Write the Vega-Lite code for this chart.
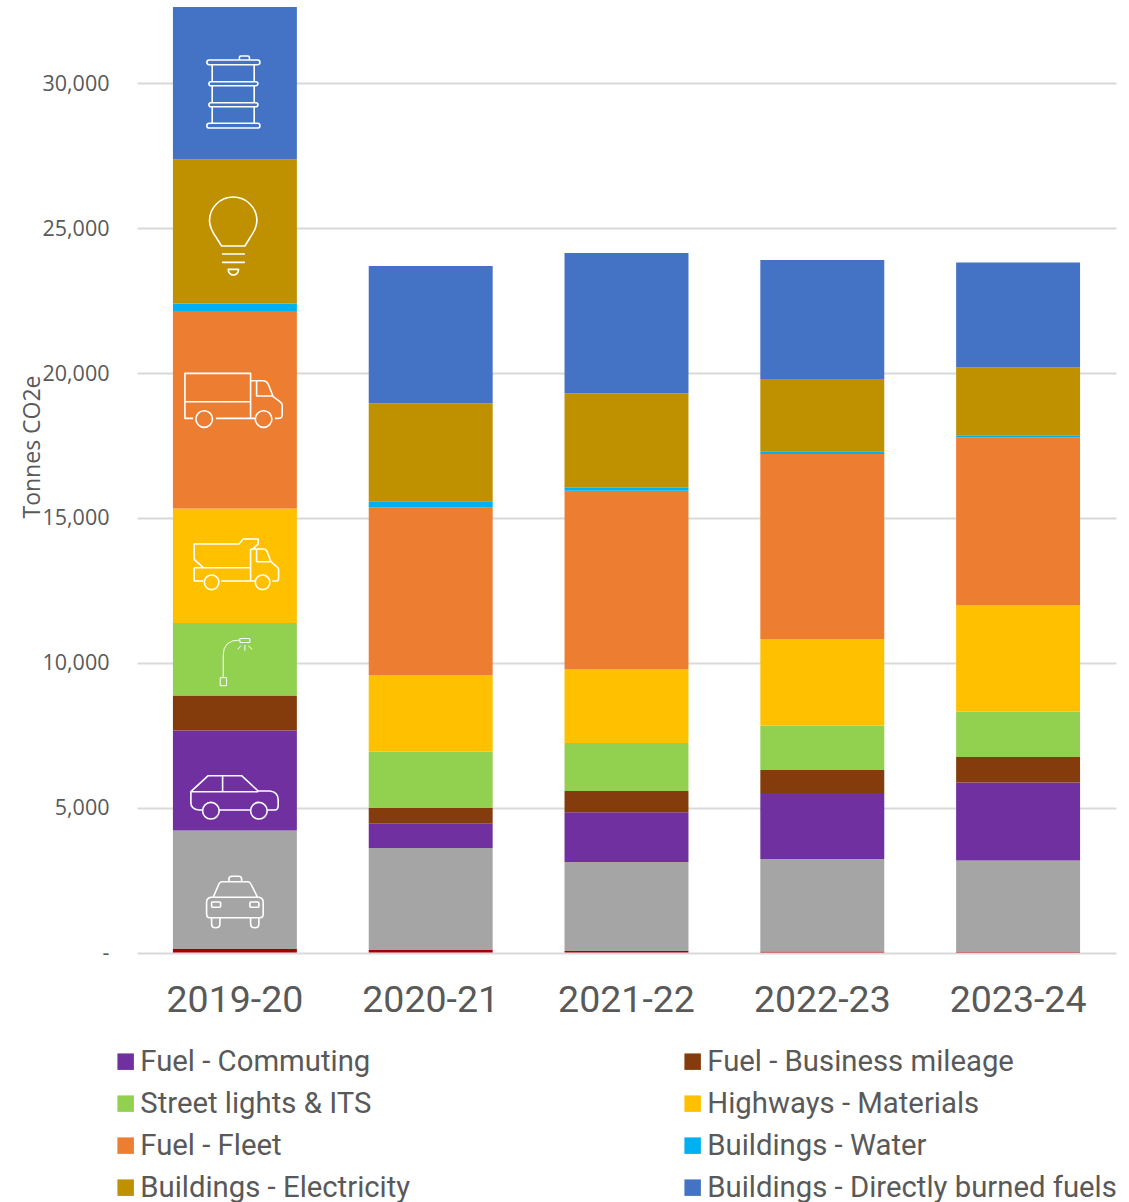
{"$schema":"https://vega.github.io/schema/vega-lite/v6.json","width":979,"height":945.5,"autosize":{"type":"none"},"padding":{"left":137,"top":7,"right":13,"bottom":249.5},"background":"#ffffff","config":{"view":{"stroke":null}},
"datasets":{"bars":[
{"year":"2019-20","category":"Other","rank":0,"tonnes":124},{"year":"2019-20","category":"Grey","rank":1,"tonnes":4087},{"year":"2019-20","category":"Fuel - Commuting","rank":2,"tonnes":3452},{"year":"2019-20","category":"Fuel - Business mileage","rank":3,"tonnes":1208},{"year":"2019-20","category":"Street lights & ITS","rank":4,"tonnes":2503},{"year":"2019-20","category":"Highways - Materials","rank":5,"tonnes":3953},{"year":"2019-20","category":"Fuel - Fleet","rank":6,"tonnes":6818},{"year":"2019-20","category":"Buildings - Water","rank":7,"tonnes":259},{"year":"2019-20","category":"Buildings - Electricity","rank":8,"tonnes":4971},{"year":"2019-20","category":"Buildings - Directly burned fuels","rank":9,"tonnes":5264},
{"year":"2020-21","category":"Other","rank":0,"tonnes":86},{"year":"2020-21","category":"Grey","rank":1,"tonnes":3521},{"year":"2020-21","category":"Fuel - Commuting","rank":2,"tonnes":853},{"year":"2020-21","category":"Fuel - Business mileage","rank":3,"tonnes":528},{"year":"2020-21","category":"Street lights & ITS","rank":4,"tonnes":1950},{"year":"2020-21","category":"Highways - Materials","rank":5,"tonnes":2641},{"year":"2020-21","category":"Fuel - Fleet","rank":6,"tonnes":5789},{"year":"2020-21","category":"Buildings - Water","rank":7,"tonnes":207},{"year":"2020-21","category":"Buildings - Electricity","rank":8,"tonnes":3383},{"year":"2020-21","category":"Buildings - Directly burned fuels","rank":9,"tonnes":4740},
{"year":"2021-22","category":"Other","rank":0,"tonnes":52},{"year":"2021-22","category":"Grey","rank":1,"tonnes":3072},{"year":"2021-22","category":"Fuel - Commuting","rank":2,"tonnes":1716},{"year":"2021-22","category":"Fuel - Business mileage","rank":3,"tonnes":735},{"year":"2021-22","category":"Street lights & ITS","rank":4,"tonnes":1657},{"year":"2021-22","category":"Highways - Materials","rank":5,"tonnes":2554},{"year":"2021-22","category":"Fuel - Fleet","rank":6,"tonnes":6155},{"year":"2021-22","category":"Buildings - Water","rank":7,"tonnes":104},{"year":"2021-22","category":"Buildings - Electricity","rank":8,"tonnes":3259},{"year":"2021-22","category":"Buildings - Directly burned fuels","rank":9,"tonnes":4843},
{"year":"2022-23","category":"Other","rank":0,"tonnes":35},{"year":"2022-23","category":"Grey","rank":1,"tonnes":3193},{"year":"2022-23","category":"Fuel - Commuting","rank":2,"tonnes":2278},{"year":"2022-23","category":"Fuel - Business mileage","rank":3,"tonnes":794},{"year":"2022-23","category":"Street lights & ITS","rank":4,"tonnes":1536},{"year":"2022-23","category":"Highways - Materials","rank":5,"tonnes":2986},{"year":"2022-23","category":"Fuel - Fleet","rank":6,"tonnes":6386},{"year":"2022-23","category":"Buildings - Water","rank":7,"tonnes":93},{"year":"2022-23","category":"Buildings - Electricity","rank":8,"tonnes":2496},{"year":"2022-23","category":"Buildings - Directly burned fuels","rank":9,"tonnes":4108},
{"year":"2023-24","category":"Other","rank":0,"tonnes":17},{"year":"2023-24","category":"Grey","rank":1,"tonnes":3159},{"year":"2023-24","category":"Fuel - Commuting","rank":2,"tonnes":2693},{"year":"2023-24","category":"Fuel - Business mileage","rank":3,"tonnes":880},{"year":"2023-24","category":"Street lights & ITS","rank":4,"tonnes":1571},{"year":"2023-24","category":"Highways - Materials","rank":5,"tonnes":3676},{"year":"2023-24","category":"Fuel - Fleet","rank":6,"tonnes":5789},{"year":"2023-24","category":"Buildings - Water","rank":7,"tonnes":69},{"year":"2023-24","category":"Buildings - Electricity","rank":8,"tonnes":2340},{"year":"2023-24","category":"Buildings - Directly burned fuels","rank":9,"tonnes":3625}
],
"icons":[
{"year":"2019-20","icon":"barrel","tonnes":29705},
{"year":"2019-20","icon":"bulb","tonnes":24768},
{"year":"2019-20","icon":"truck","tonnes":19210},
{"year":"2019-20","icon":"tipper","tonnes":13377},
{"year":"2019-20","icon":"light","tonnes":10028},
{"year":"2019-20","icon":"car","tonnes":5437},
{"year":"2019-20","icon":"taxi","tonnes":1743}
]},
"layer":[
{"data":{"name":"bars"},"mark":{"type":"bar"},
"encoding":{
"x":{"field":"year","type":"nominal","title":null,"scale":{"paddingInner":0.367,"paddingOuter":0.1835},"axis":{"labelAngle":0,"domain":false,"ticks":false,"grid":false,"labelFont":"Roboto","labelFontSize":37.5,"labelColor":"#595959","labelPadding":29}},
"y":{"field":"tonnes","type":"quantitative","stack":"zero","scale":{"domain":[0,32640],"nice":false},"title":"Tonnes CO2e","axis":{"values":[0,5000,10000,15000,20000,25000,30000],"labelExpr":"datum.value === 0 ? '-' : format(datum.value, ',')","domain":false,"ticks":false,"grid":true,"gridColor":"#d9d9d9","gridWidth":2,"labelFont":"Open Sans","labelFontSize":21.5,"labelColor":"#595959","labelPadding":28,"labelOffset":1,"titleFont":"Open Sans","titleFontSize":23,"titleFontWeight":"normal","titleColor":"#595959","titleX":-93,"titleY":439.5}},
"order":{"field":"rank","type":"quantitative"},
"color":{"field":"category","type":"nominal","title":null,"scale":{"domain":["Other","Grey","Fuel - Commuting","Fuel - Business mileage","Street lights & ITS","Highways - Materials","Fuel - Fleet","Buildings - Water","Buildings - Electricity","Buildings - Directly burned fuels"],"range":["#A50000","#A5A5A5","#7030A0","#843C0C","#92D050","#FFC000","#ED7D31","#00B0F0","#BF9000","#4472C4"]},
"legend":{"values":["Fuel - Commuting","Fuel - Business mileage","Street lights & ITS","Highways - Materials","Fuel - Fleet","Buildings - Water","Buildings - Electricity","Buildings - Directly burned fuels"],"orient":"none","direction":"horizontal","columns":2,"legendX":-26,"legendY":1040,"symbolType":"square","symbolSize":272,"symbolStrokeWidth":0,"labelFont":"Roboto","labelFontSize":29.3,"labelColor":"#595959","labelOffset":0,"labelLimit":600,"rowPadding":12,"columnPadding":267,"gridAlign":"each"}}
}},
{"data":{"name":"icons"},"mark":{"type":"point","filled":false,"stroke":"#ffffff","strokeJoin":"round","opacity":1,"size":4},
"encoding":{
"x":{"field":"year","type":"nominal"},
"y":{"field":"tonnes","type":"quantitative","stack":null},
"strokeWidth":{"condition":{"test":"datum.icon === 'light'","value":1},"value":1.6},
"shape":{"field":"icon","type":"nominal","legend":null,"scale":{"domain":["barrel","bulb","truck","tipper","light","car","taxi"],"range":[
"M-25.7 -32H22.7A2.3 2.3 0 0 1 22.7 -27.3H-25.7A2.3 2.3 0 0 1 -25.7 -32ZM4.5 -32V-34.5Q4.5 -36 6 -36H13Q14.5 -36 14.5 -34.5V-32M-22.7 -27.3V-10.3M19.3 -27.3V-10.3M-24 -10.3H21A2 2 0 0 1 21 -6.3H-24A2 2 0 0 1 -24 -10.3ZM-22.7 -6.3V10.7M19.3 -6.3V10.7M-24 10.7H21A2 2 0 0 1 21 14.7H-24A2 2 0 0 1 -24 10.7ZM-22.7 14.7V31.3M19.3 14.7V31.3M-25.7 31.3H22.7A2.3 2.3 0 0 1 22.7 36H-25.7A2.3 2.3 0 0 1 -25.7 31.3Z",
"M-13.3 11L-18 3.5Q-25.4 -7 -25.4 -14.3A23.7 23.7 0 1 1 22 -14.3Q22 -7 14.6 3.5L10 11ZM-13 19H10M-13 27.3H10M-6.7 34.3H3.7A5.2 5.7 0 0 1 -6.7 34.3Z",
"M-41.7 22.3H-50V-22.7H15.7V22.3H-19M-50 5.7H15.7M15.7 -15.3H28.3Q31.5 -15.3 33.3 -12L38.3 0.7L45 5.7Q47.3 7 47.3 9V19Q47.3 22.3 44 22.3H40M21.7 -15.3V0H38M-22.4 23A8.3 8.3 0 1 0 -39 23A8.3 8.3 0 1 0 -22.4 23ZM37 23A8.3 8.3 0 1 0 20.4 23A8.3 8.3 0 1 0 37 23ZM15.7 22.3H20",
"M-31.7 2.7L-40.7 -5.7V-21H4L8.3 -26H23.3V-21L16.7 -15M-40.7 2.7H15.7M-40.7 2.7V16H-31.7M-14 16H20M15.7 -16V16M15.7 -16H28.3Q31 -16 32.3 -13.3L36 -3.3L41.7 1.7Q43.7 3 43.7 4.3V13.3Q43.7 16 41.7 16H37.3M21.7 -16V-3.3H35M-16 17.3A7.3 7.3 0 1 0 -30.6 17.3A7.3 7.3 0 1 0 -16 17.3ZM35 17.3A7.3 7.3 0 1 0 20.4 17.3A7.3 7.3 0 1 0 35 17.3Z",
"M-14.7 15.7H-8.3V23.7H-14.7ZM-11.7 15.7V-7Q-11.7 -22 5 -22M5 -23.5H15V-19.5H5ZM10 -17V-11.3M6 -16.3L2.7 -12.7M13.3 -16.3L17.3 -12.7",
"M-32.3 15H-36Q-44 14 -44 8V-3.3L-26.7 -19.3H6.7L23.3 -4H35Q43.3 -3 43.3 5V10Q43.3 15 40 15H33M15 15H-15.7M-44 -3.3H23.3M-12.3 -19.3V-3.3M32.3 15.7A8.3 8.3 0 1 0 15.7 15.7A8.3 8.3 0 1 0 32.3 15.7ZM-15.7 15.7A8.3 8.3 0 1 0 -32.3 15.7A8.3 8.3 0 1 0 -15.7 15.7Z",
"M-24.3 -4.7H24.3Q28.3 -3.5 28.3 0V12Q28.3 15.7 25 15.7H-25Q-28.3 15.7 -28.3 12V0Q-28.3 -3.5 -24.3 -4.7ZM-21.7 -4.7L-16 -18Q-15 -20.3 -13 -20.3H13Q15 -20.3 16 -18L22.7 -4.7M-6 -20.3V-23Q-6 -25.7 -3 -25.7H4Q6.7 -25.7 6.7 -23V-20.3M-22.3 0H-15.3Q-14.3 0 -14.3 1V4.3Q-14.3 5.3 -15.3 5.3H-22.3Q-23.3 5.3 -23.3 4.3V1Q-23.3 0 -22.3 0ZM16 0H23Q24 0 24 1V4.3Q24 5.3 23 5.3H16Q15 5.3 15 4.3V1Q15 0 16 0ZM-23.3 15.7V22Q-23.3 25.7 -19.3 25.7Q-15 25.7 -15 22V15.7M15.7 15.7V22Q15.7 25.7 20 25.7Q24 25.7 24 22V15.7"
]}}
}}
]}
